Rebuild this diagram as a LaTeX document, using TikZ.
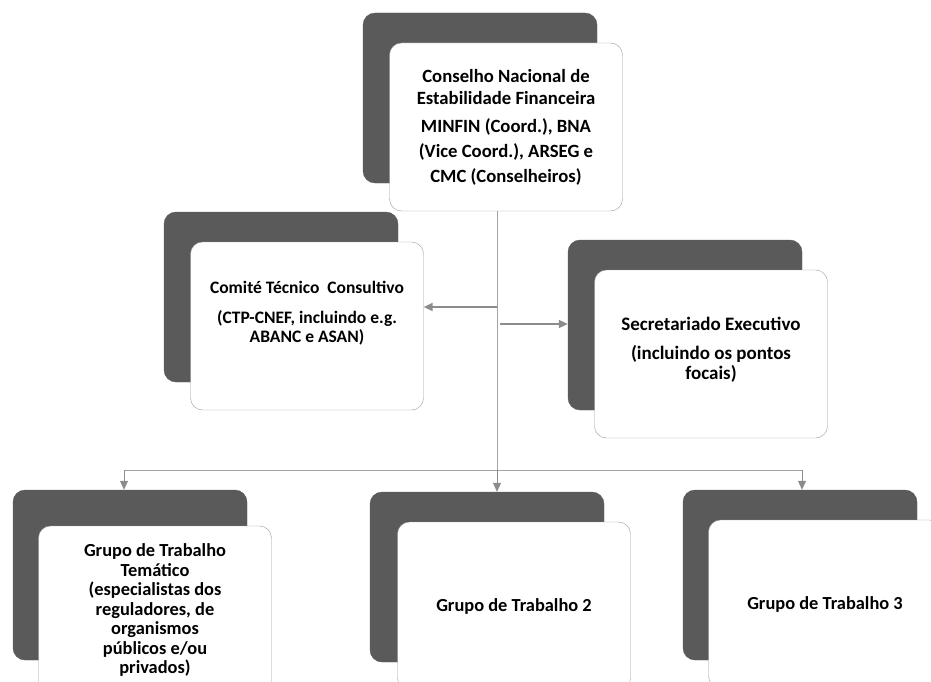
\documentclass[tikz,border=0pt]{standalone}
\usepackage{fontspec}
\setmainfont{Carlito}
\usepackage{tikz}
\usetikzlibrary{positioning,arrows.meta,calc}
\definecolor{shade}{HTML}{5A5A5A}
\definecolor{rim}{HTML}{9A9A9A}
\definecolor{wire}{HTML}{8C8C8C}

\begin{document}
\begin{tikzpicture}[
  x=1pt,y=-1pt,
  font=\fontsize{18.4}{19.5}\selectfont\bfseries,
  back/.style={draw=shade,fill=shade,rounded corners=12pt,minimum width=234pt,minimum height=170pt,inner sep=0pt},
  card/.style={draw=rim,fill=white,rounded corners=12pt,minimum width=233pt,minimum height=168pt,inner sep=0pt,align=center},
  a/.style={-{Triangle[length=9pt,width=8pt]},line width=2pt,wire},
  ln/.style={line width=0.8pt,wire!80}
]
\useasboundingbox (0,0) rectangle (931,682);
% shadowed cards
\node[back] (cnefb) at (480,98) {};
\node[card,font=\fontsize{18.7}{25}\selectfont\bfseries] (cnef) at ([shift={(26,29)}]cnefb.center)
  {Conselho Nacional de\\[-3pt]Estabilidade Financeira\\[3pt]MINFIN (Coord.), BNA\\(Vice Coord.), ARSEG e\\CMC (Conselheiros)};
\node[back] (ctcb) at (281,297) {};
\node[card,font=\fontsize{17.5}{19.5}\selectfont\bfseries] (ctc) at ([shift={(26,29)}]ctcb.center)
  {Comité Técnico\ \ Consultivo\\[10pt](CTP-CNEF, incluindo e.g.\\ABANC e ASAN)\\[8pt]~};
\node[back] (secb) at (685,325) {};
\node[card,font=\fontsize{19}{20.5}\selectfont\bfseries] (sec) at ([shift={(26,29)}]secb.center)
  {Secretariado Executivo\\[8pt](incluindo os pontos\\focais)\\[-10pt]~};
\node[back] (gt1b) at (130,575) {};
\node[card] (gt1) at ([shift={(25,35)}]gt1b.center)
  {Grupo de Trabalho\\Temático\\(especialistas dos\\reguladores, de\\organismos\\públicos e/ou\\privados)};
\node[back] (gt2b) at (487,577) {};
\node[card] (gt2) at ([shift={(27,29)}]gt2b.center) {Grupo de Trabalho 2};
\node[back] (gt3b) at (800,575) {};
\node[card] (gt3) at ([shift={(25,29)}]gt3b.center) {Grupo de Trabalho 3};
% connectors
\coordinate (hub) at (497,470);
\coordinate (jl) at (497,307);
\coordinate (jr) at (500,324);
\draw[ln] (cnef.south -| hub) -- (hub);
\draw[a] (jl) -- (jl -| ctc.east);
\draw[a] (jr) -- (jr -| secb.west);
\draw[ln] (hub) -- (124,470) coordinate (hl);
\draw[ln] (hub) -- (802,470) coordinate (hr);
\draw[a,line width=1pt] (hl) -- (hl |- gt1b.north);
\draw[a,line width=1pt] (hub) -- (hub |- gt2b.north);
\draw[a,line width=1pt] (hr) -- (hr |- gt3b.north);
\end{tikzpicture}
\end{document}
